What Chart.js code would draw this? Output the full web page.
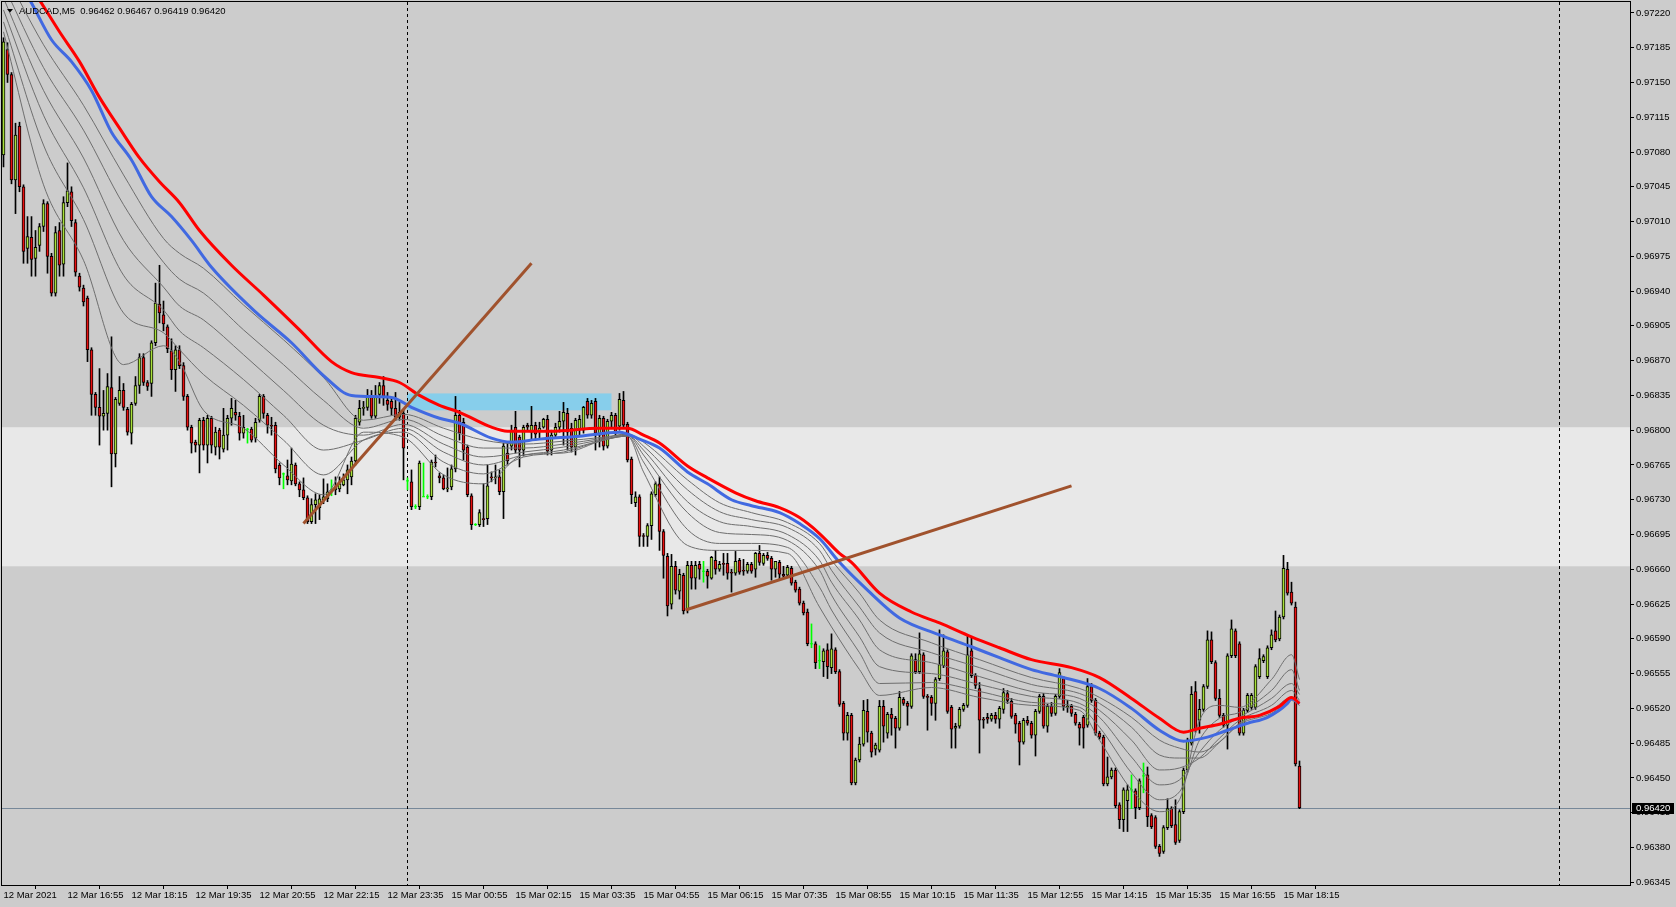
<!DOCTYPE html>
<html>
<head>
<meta charset="utf-8">
<script src="https://cdn.jsdelivr.net/npm/chart.js@4.4.1/dist/chart.umd.min.js"></script>
<style>
  html, body { margin: 0; padding: 0; background: #cccccc; }
  #wrap { width: 1676px; height: 907px; }
</style>
</head>
<body>
<div id="wrap"><canvas id="chart" width="1676" height="907"></canvas></div>
<script>
// prices are kept in points: 96420 means 0.96420
const symbol = 'AUDCAD,M5';
const timeLabels = ['12 Mar 2021', '12 Mar 16:55', '12 Mar 18:15', '12 Mar 19:35', '12 Mar 20:55', '12 Mar 22:15',
  '12 Mar 23:35', '15 Mar 00:55', '15 Mar 02:15', '15 Mar 03:35', '15 Mar 04:55', '15 Mar 06:15', '15 Mar 07:35',
  '15 Mar 08:55', '15 Mar 10:15', '15 Mar 11:35', '15 Mar 12:55', '15 Mar 14:15', '15 Mar 15:35', '15 Mar 16:55',
  '15 Mar 18:15'];
const barsPerLabel = 16;
const priceTicks = [96345, 96380, 96415, 96450, 96485, 96520, 96555, 96590, 96625, 96660, 96695, 96730, 96765,
  96800, 96835, 96870, 96905, 96940, 96975, 97010, 97045, 97080, 97115, 97150, 97185, 97220];

const opens = [97077,97183,97158,97052,97106,97045,96983,96994,96973,96986,
  97005,97028,96975,96938,97001,96967,97029,97040,97009,96955,
  96943,96933,96881,96836,96823,96814,96817,96843,96776,96827,
  96840,96821,96797,96827,96845,96873,96848,96847,96888,96927,
  96916,96904,96880,96861,96881,96865,96834,96803,96788,96785,
  96810,96785,96812,96783,96800,96781,96795,96812,96818,96814,
  96797,96801,96801,96792,96810,96834,96815,96805,96805,96765,
  96756,96754,96749,96765,96746,96740,96732,96708,96725,96722,
  96730,96731,96740,96740,96741,96745,96750,96753,96769,96808,
  96822,96823,96834,96814,96836,96845,96830,96829,96822,96813,
  96817,96749,96748,96723,96723,96733,96733,96733,96768,96754,
  96752,96741,96743,96761,96815,96808,96783,96734,96705,96705,
  96711,96711,96753,96752,96753,96738,96777,96784,96803,96793,
  96780,96805,96798,96805,96799,96803,96811,96780,96795,96803,
  96809,96817,96802,96783,96801,96800,96829,96815,96829,96795,
  96812,96784,96809,96815,96804,96830,96806,96771,96727,96733,
  96694,96693,96704,96735,96746,96698,96673,96625,96663,96638,
  96654,96619,96664,96651,96665,96658,96658,96651,96669,96660,
  96666,96666,96657,96656,96669,96659,96658,96665,96660,96676,
  96666,96674,96671,96660,96667,96655,96654,96661,96647,96640,
  96626,96617,96585,96585,96568,96567,96579,96561,96579,96557,
  96525,96495,96513,96445,96468,96484,96517,96495,96479,96478,
  96522,96495,96514,96510,96500,96529,96525,96522,96569,96557,
  96574,96532,96531,96525,96550,96563,96577,96521,96500,96502,
  96519,96523,96578,96553,96540,96509,96511,96509,96513,96509,
  96519,96535,96527,96513,96505,96486,96508,96505,96493,96517,
  96532,96502,96522,96515,96532,96550,96521,96522,96514,96504,
  96511,96503,96542,96528,96495,96491,96444,96451,96458,96423,
  96408,96427,96438,96437,96420,96452,96453,96412,96410,96381,
  96376,96400,96419,96403,96387,96416,96458,96485,96537,96508,
  96519,96542,96589,96566,96530,96513,96503,96573,96598,96585,
  96495,96518,96521,96521,96552,96568,96552,96581,96598,96590,
  96612,96660,96637,96622,96462];
const highs = [97195,97190,97160,97109,97110,97047,97015,97015,97001,97008,
  97032,97030,96978,97005,97009,97035,97069,97045,97012,96958,
  96946,96935,96883,96838,96862,96840,96857,96894,96833,96854,
  96847,96823,96828,96854,96877,96877,96850,96890,96948,96966,
  96930,96906,96892,96885,96885,96868,96836,96805,96790,96812,
  96813,96815,96814,96803,96802,96822,96815,96832,96830,96818,
  96815,96802,96803,96812,96836,96836,96817,96813,96808,96767,
  96757,96770,96782,96767,96748,96752,96734,96731,96736,96735,
  96751,96746,96750,96753,96753,96756,96765,96773,96815,96830,
  96829,96841,96840,96845,96848,96854,96838,96833,96838,96828,
  96820,96752,96760,96725,96769,96767,96735,96770,96775,96757,
  96755,96762,96765,96834,96820,96812,96785,96736,96706,96720,
  96746,96765,96758,96765,96760,96787,96787,96805,96819,96795,
  96805,96807,96824,96808,96808,96812,96815,96800,96807,96819,
  96828,96822,96807,96812,96815,96824,96832,96830,96832,96815,
  96814,96811,96818,96817,96837,96839,96808,96773,96738,96735,
  96696,96706,96738,96748,96753,96700,96676,96675,96668,96660,
  96656,96668,96668,96668,96668,96668,96660,96673,96679,96668,
  96676,96676,96660,96678,96671,96670,96667,96667,96677,96684,
  96676,96677,96673,96668,96669,96663,96664,96663,96649,96642,
  96628,96620,96605,96587,96583,96580,96585,96595,96581,96559,
  96527,96516,96515,96470,96491,96528,96529,96497,96485,96528,
  96528,96516,96520,96512,96537,96531,96527,96575,96575,96596,
  96576,96534,96533,96551,96599,96594,96579,96523,96505,96521,
  96525,96593,96592,96555,96546,96511,96515,96515,96516,96522,
  96540,96538,96530,96515,96507,96510,96512,96507,96519,96534,
  96535,96524,96526,96534,96560,96552,96528,96524,96516,96506,
  96513,96550,96545,96530,96497,96493,96471,96460,96460,96425,
  96440,96443,96453,96439,96449,96465,96461,96414,96412,96383,
  96402,96429,96421,96428,96418,96460,96490,96542,96547,96529,
  96544,96598,96597,96568,96539,96515,96575,96609,96600,96587,
  96520,96535,96535,96564,96580,96574,96583,96599,96618,96614,
  96674,96667,96647,96627,96467];
const lows = [97065,97150,97048,97018,97040,96968,96968,96955,96955,96980,
  97000,96958,96935,96935,96955,96955,97025,97005,96955,96940,
  96925,96869,96815,96815,96785,96800,96800,96743,96763,96825,
  96820,96795,96786,96825,96837,96845,96840,96834,96885,96908,
  96900,96878,96851,96839,96862,96830,96800,96777,96778,96757,
  96780,96767,96777,96775,96771,96778,96780,96805,96810,96790,
  96792,96787,96788,96788,96808,96812,96797,96795,96757,96745,
  96741,96745,96745,96744,96733,96730,96706,96706,96706,96710,
  96726,96728,96734,96735,96738,96744,96736,96745,96765,96805,
  96815,96820,96812,96812,96827,96825,96820,96815,96810,96810,
  96750,96740,96720,96721,96720,96733,96731,96730,96763,96747,
  96740,96738,96740,96758,96790,96770,96733,96700,96704,96703,
  96703,96705,96748,96746,96735,96711,96765,96780,96777,96763,
  96774,96800,96790,96790,96792,96802,96775,96775,96792,96798,
  96785,96780,96778,96775,96795,96797,96812,96812,96780,96783,
  96780,96782,96803,96795,96800,96802,96768,96726,96723,96683,
  96683,96683,96690,96733,96679,96651,96613,96620,96635,96630,
  96615,96616,96640,96640,96650,96647,96641,96650,96655,96658,
  96654,96650,96637,96654,96655,96654,96656,96656,96652,96664,
  96664,96669,96649,96652,96649,96651,96652,96644,96637,96624,
  96614,96583,96581,96560,96560,96552,96550,96555,96555,96522,
  96488,96488,96443,96443,96466,96482,96486,96471,96473,96476,
  96486,96490,96493,96480,96498,96523,96503,96520,96555,96555,
  96530,96498,96513,96508,96548,96561,96515,96480,96480,96500,
  96517,96521,96551,96540,96475,96500,96505,96507,96505,96500,
  96515,96525,96510,96495,96463,96484,96503,96490,96472,96515,
  96500,96496,96512,96513,96530,96518,96516,96512,96503,96483,
  96480,96501,96526,96493,96489,96442,96442,96449,96420,96399,
  96396,96396,96419,96409,96418,96435,96401,96399,96379,96371,
  96374,96398,96400,96383,96385,96414,96456,96483,96496,96495,
  96517,96540,96565,96528,96511,96501,96479,96571,96571,96493,
  96493,96516,96519,96519,96550,96566,96550,96579,96587,96588,
  96610,96634,96624,96462,96419];
const closes = [97191,97158,97052,97097,97045,96980,96995,96972,96984,97005,
  97028,96975,96938,96999,96966,97029,97041,97011,96959,96944,
  96929,96881,96836,96823,96814,96817,96844,96776,96831,96840,
  96823,96798,96826,96845,96873,96848,96844,96888,96928,96918,
  96907,96882,96861,96881,96865,96834,96803,96787,96785,96810,
  96785,96812,96785,96798,96783,96795,96812,96822,96815,96797,
  96803,96801,96790,96808,96834,96817,96805,96804,96761,96752,
  96756,96750,96766,96746,96740,96732,96708,96725,96730,96731,
  96733,96738,96740,96743,96746,96750,96760,96769,96812,96822,
  96823,96834,96814,96834,96845,96834,96826,96822,96813,96818,
  96782,96749,96723,96723,96767,96733,96733,96768,96767,96752,
  96741,96742,96761,96815,96797,96780,96735,96705,96705,96717,
  96710,96744,96752,96753,96738,96784,96769,96799,96780,96780,
  96803,96803,96805,96796,96802,96811,96779,96795,96803,96809,
  96818,96798,96783,96810,96811,96823,96815,96827,96797,96812,
  96784,96809,96815,96798,96831,96805,96770,96735,96733,96693,
  96693,96704,96736,96746,96698,96674,96623,96663,96639,96655,
  96618,96664,96651,96664,96660,96658,96653,96672,96660,96665,
  96665,96656,96656,96668,96657,96658,96665,96658,96676,96667,
  96674,96671,96660,96668,96655,96653,96662,96646,96639,96626,
  96616,96585,96585,96566,96568,96578,96562,96580,96557,96524,
  96495,96513,96445,96468,96484,96518,96496,96476,96483,96522,
  96502,96514,96510,96500,96531,96525,96522,96573,96557,96575,
  96532,96531,96525,96549,96564,96578,96517,96499,96502,96519,
  96523,96574,96553,96543,96508,96508,96509,96513,96509,96520,
  96536,96528,96512,96504,96486,96508,96505,96493,96517,96532,
  96502,96522,96515,96532,96556,96522,96522,96515,96505,96500,
  96500,96542,96528,96495,96491,96444,96451,96458,96422,96408,
  96438,96438,96438,96420,96447,96452,96411,96401,96381,96374,
  96400,96419,96402,96385,96416,96458,96488,96534,96499,96519,
  96542,96589,96567,96530,96513,96503,96573,96600,96573,96495,
  96518,96533,96533,96562,96570,96572,96581,96594,96589,96612,
  96661,96636,96626,96464,96420];

// moving averages read at sample bars
const redBars = [0, 9, 14, 19, 24, 29, 34, 39, 44, 49, 57, 65, 74, 82, 87, 94, 99, 104, 109, 114, 122, 126, 137,
  149, 156, 160, 164, 171, 176, 183, 188, 194, 199, 204, 209, 212, 219, 227, 234, 242, 249, 257, 267, 274, 282,
  289, 295, 299, 304, 309, 314, 319, 322, 324];
const redVals = [97288, 97233, 97201, 97171, 97135, 97104, 97074, 97050, 97029, 97001, 96966, 96936, 96901, 96869,
  96858, 96853, 96848, 96835, 96825, 96818, 96803, 96799, 96799, 96802, 96802, 96795, 96787, 96764, 96752, 96737,
  96729, 96722, 96712, 96696, 96676, 96667, 96636, 96617, 96606, 96592, 96581, 96569, 96561, 96551, 96530, 96510,
  96496, 96500, 96504, 96510, 96513, 96522, 96531, 96525];
const blueBars = [0, 7, 12, 17, 22, 27, 32, 37, 42, 47, 52, 63, 72, 80, 87, 97, 102, 109, 114, 122, 127, 134, 144,
  154, 159, 164, 171, 176, 182, 187, 194, 199, 204, 209, 216, 224, 234, 242, 249, 257, 264, 274, 282, 289, 295,
  301, 306, 311, 316, 321, 322, 324];
const blueVals = [97278, 97230, 97193, 97171, 97142, 97100, 97072, 97035, 97015, 96991, 96964, 96919, 96888, 96855,
  96835, 96833, 96823, 96812, 96807, 96792, 96788, 96791, 96794, 96798, 96791, 96782, 96758, 96746, 96730, 96724,
  96717, 96706, 96691, 96667, 96639, 96611, 96594, 96582, 96571, 96559, 96552, 96540, 96520, 96498, 96487, 96491,
  96498, 96505, 96511, 96525, 96530, 96525];
const ribbonBars = [0, 10, 20, 30, 40, 44, 50, 60, 70, 80, 90, 100, 110, 120, 130, 140, 150, 156, 160, 171, 179,
  187, 196, 204, 207, 214, 219, 232, 244, 257, 269, 274, 282, 289, 294, 299, 304, 309, 317, 322, 324];
const ribbon1 = [97263, 97188, 97127, 97057, 96993, 96978, 96963, 96926, 96891, 96853, 96810, 96816, 96802, 96790,
  96786, 96789, 96793, 96796, 96788, 96750, 96727, 96717, 96707, 96686, 96669, 96636, 96609, 96586, 96569, 96551,
  96540, 96531, 96511, 96488, 96480, 96476, 96486, 96504, 96515, 96528, 96523];
const ribbon2 = [97248, 97165, 97102, 97027, 96969, 96952, 96938, 96901, 96866, 96830, 96802, 96811, 96794, 96782,
  96782, 96786, 96792, 96796, 96784, 96740, 96718, 96710, 96702, 96679, 96659, 96622, 96596, 96576, 96561, 96544,
  96535, 96525, 96501, 96473, 96470, 96470, 96486, 96505, 96518, 96531, 96525];
const ribbon3 = [97235, 97142, 97074, 96991, 96944, 96925, 96911, 96876, 96840, 96805, 96795, 96806, 96786, 96773,
  96778, 96783, 96791, 96795, 96780, 96728, 96708, 96703, 96695, 96669, 96647, 96609, 96579, 96566, 96552, 96537,
  96530, 96518, 96488, 96458, 96460, 96470, 96490, 96508, 96523, 96538, 96528];
const ribbon4 = [97223, 97117, 97044, 96956, 96921, 96900, 96883, 96851, 96815, 96780, 96790, 96802, 96778, 96765,
  96775, 96780, 96790, 96795, 96775, 96717, 96697, 96695, 96689, 96659, 96634, 96592, 96562, 96555, 96544, 96532,
  96525, 96511, 96471, 96443, 96448, 96476, 96498, 96511, 96530, 96545, 96534];
const ribbon5 = [97211, 97087, 97012, 96918, 96898, 96881, 96856, 96825, 96790, 96755, 96790, 96798, 96768, 96756,
  96773, 96778, 96790, 96794, 96768, 96700, 96686, 96686, 96682, 96642, 96619, 96576, 96545, 96546, 96537, 96526,
  96521, 96501, 96455, 96428, 96436, 96488, 96510, 96516, 96538, 96559, 96538];
const ribbon6 = [97201, 97047, 96971, 96866, 96885, 96869, 96820, 96802, 96765, 96735, 96798, 96793, 96755, 96746,
  96775, 96777, 96790, 96794, 96758, 96684, 96679, 96679, 96676, 96622, 96602, 96559, 96533, 96541, 96531, 96523,
  96518, 96488, 96438, 96416, 96428, 96508, 96523, 96521, 96549, 96574, 96549];

// drawn objects
const trend1Bars = [75, 132], trend1Vals = [96706, 96968];
const trend2Bars = [170.5, 267], trend2Vals = [96619, 96744];
const zoneTop = 96803, zoneBottom = 96663;
const boxBars = [101, 152], boxVals = [96820, 96837];
const separatorBars = [101, 389];

const pt = v => v / 100000;
const bull = '#a8e03a', bear = '#e81010', dojiColor = '#00ff00';
const isDoji = i => opens[i] === closes[i];
const idx = opens.map((_, i) => i);
const lineData = (bars, vals) => bars.map((b, k) => ({ x: b, y: pt(vals[k]) }));
const axisFont = { family: 'Liberation Sans', size: 9.5 };

const chartDecor = {
  id: 'chartDecor',
  beforeDraw(chart) {
    const { ctx } = chart;
    ctx.save();
    ctx.fillStyle = '#cccccc';
    ctx.fillRect(0, 0, chart.width, chart.height);
    ctx.restore();
  },
  beforeDatasetsDraw(chart) {
    const { ctx, chartArea: a, scales: { x, y } } = chart;
    ctx.save();
    ctx.beginPath();
    ctx.rect(a.left, a.top, a.width, a.height);
    ctx.clip();
    // light zone
    const z1 = y.getPixelForValue(pt(zoneTop)), z2 = y.getPixelForValue(pt(zoneBottom));
    ctx.fillStyle = '#e8e8e8';
    ctx.fillRect(a.left, z1, a.width, z2 - z1);
    // blue rectangle
    const bx1 = x.getPixelForValue(boxBars[0]) - 0.5, bx2 = x.getPixelForValue(boxBars[1]);
    const by1 = y.getPixelForValue(pt(boxVals[1])), by2 = y.getPixelForValue(pt(boxVals[0]));
    ctx.fillStyle = '#87ceeb';
    ctx.fillRect(bx1, by1, bx2 - bx1, by2 - by1);
    // bid line
    const last = closes[closes.length - 1];
    const ly = Math.round(y.getPixelForValue(pt(last))) + 0.5;
    ctx.strokeStyle = '#778899';
    ctx.lineWidth = 1;
    ctx.beginPath();
    ctx.moveTo(a.left, ly);
    ctx.lineTo(a.right, ly);
    ctx.stroke();
    // period separators
    ctx.strokeStyle = '#000';
    ctx.setLineDash([3, 3]);
    separatorBars.forEach(b => {
      const px = Math.floor(x.getPixelForValue(b)) + 0.5;
      ctx.beginPath();
      ctx.moveTo(px, a.top);
      ctx.lineTo(px, a.bottom);
      ctx.stroke();
    });
    ctx.restore();
  },
  afterDraw(chart) {
    const { ctx, chartArea: a, scales: { y } } = chart;
    ctx.save();
    ctx.strokeStyle = '#000';
    ctx.lineWidth = 1;
    ctx.strokeRect(a.left - 0.5, a.top - 0.5, a.width + 1, a.height + 1);
    // header
    const n = closes.length - 1;
    ctx.fillStyle = '#000';
    ctx.beginPath();
    ctx.moveTo(7, 9); ctx.lineTo(13, 9); ctx.lineTo(10, 12.5); ctx.closePath();
    ctx.fill();
    ctx.font = '9.5px "Liberation Sans"';
    ctx.textBaseline = 'middle';
    ctx.textAlign = 'left';
    const f = v => pt(v).toFixed(5);
    ctx.fillText(symbol + '  ' + [opens[n], highs[n], lows[n], closes[n]].map(f).join(' '), 19, 11);
    // last price box
    const ly = Math.round(y.getPixelForValue(pt(closes[n])));
    ctx.fillRect(a.right + 2, ly - 5, 42, 11);
    ctx.fillStyle = '#fff';
    ctx.fillText(f(closes[n]), a.right + 6, ly + 0.5);
    ctx.restore();
  }
};

const ribbons = [ribbon1, ribbon2, ribbon3, ribbon4, ribbon5, ribbon6];

new Chart(document.getElementById('chart'), {
  type: 'bar',
  data: {
    datasets: [
      { type: 'line', data: lineData(trend1Bars, trend1Vals), borderColor: '#a0522d', borderWidth: 3, pointRadius: 0, order: 0 },
      { type: 'line', data: lineData(trend2Bars, trend2Vals), borderColor: '#a0522d', borderWidth: 3, pointRadius: 0, order: 0 },
      { type: 'line', data: lineData(redBars, redVals), borderColor: '#ff0000', borderWidth: 3, pointRadius: 0,
        cubicInterpolationMode: 'monotone', order: 1 },
      { type: 'line', data: lineData(blueBars, blueVals), borderColor: '#4169e1', borderWidth: 3, pointRadius: 0,
        cubicInterpolationMode: 'monotone', order: 2 },
      ...ribbons.map(r => ({ type: 'line', data: lineData(ribbonBars, r), borderColor: '#6e6e6e', borderWidth: 1,
        pointRadius: 0, cubicInterpolationMode: 'monotone', order: 3 })),
      { type: 'line', data: idx.filter(isDoji).map(i => ({ x: i, y: pt(opens[i]) })), showLine: false,
        pointStyle: 'line', pointRadius: 1.5, pointBorderColor: dojiColor, pointBorderWidth: 1, order: 4 },
      { type: 'bar', data: idx.map(i => ({ x: i, y: [pt(opens[i]), pt(closes[i])] })), barThickness: 3, grouped: false,
        backgroundColor: c => closes[c.dataIndex] > opens[c.dataIndex] ? bull : bear,
        borderColor: c => isDoji(c.dataIndex) ? 'rgba(0,0,0,0)' : '#000', borderWidth: 1, borderSkipped: false, order: 5 },
      { type: 'bar', data: idx.map(i => ({ x: i, y: [pt(lows[i]), pt(highs[i])] })), barThickness: 1, grouped: false,
        backgroundColor: c => isDoji(c.dataIndex) ? dojiColor : '#000', borderWidth: 0, order: 6 }
    ]
  },
  options: {
    responsive: false,
    animation: false,
    devicePixelRatio: 1,
    layout: { autoPadding: false, padding: { left: 2, top: 2, right: 0, bottom: 0 } },
    plugins: { legend: { display: false }, tooltip: { enabled: false } },
    scales: {
      x: {
        type: 'linear', min: -0.375, max: 406.625, offset: false,
        afterBuildTicks: s => { s.ticks = timeLabels.map((t, k) => ({ value: k * barsPerLabel })); },
        afterFit: s => { s.height = 22; s.paddingLeft = 0; s.paddingRight = 0; },
        ticks: { autoSkip: false, maxRotation: 0, minRotation: 0, align: 'start', padding: 1, color: '#000',
          font: axisFont, callback: v => timeLabels[Math.round(v / barsPerLabel)] },
        grid: { drawOnChartArea: false, drawTicks: true, tickLength: 4, color: '#000', lineWidth: 1 },
        border: { display: false }
      },
      y: {
        position: 'right', min: 0.963422, max: 0.97231,
        afterBuildTicks: s => { s.ticks = priceTicks.map(v => ({ value: pt(v) })); },
        afterFit: s => { s.width = 46; s.paddingTop = 0; s.paddingBottom = 0; },
        ticks: { autoSkip: false, padding: 2, color: '#000', font: axisFont, callback: v => v.toFixed(5) },
        grid: { drawOnChartArea: false, drawTicks: true, tickLength: 4, color: '#000', lineWidth: 1 },
        border: { display: false }
      }
    }
  },
  plugins: [chartDecor]
});
</script>
</body>
</html>
